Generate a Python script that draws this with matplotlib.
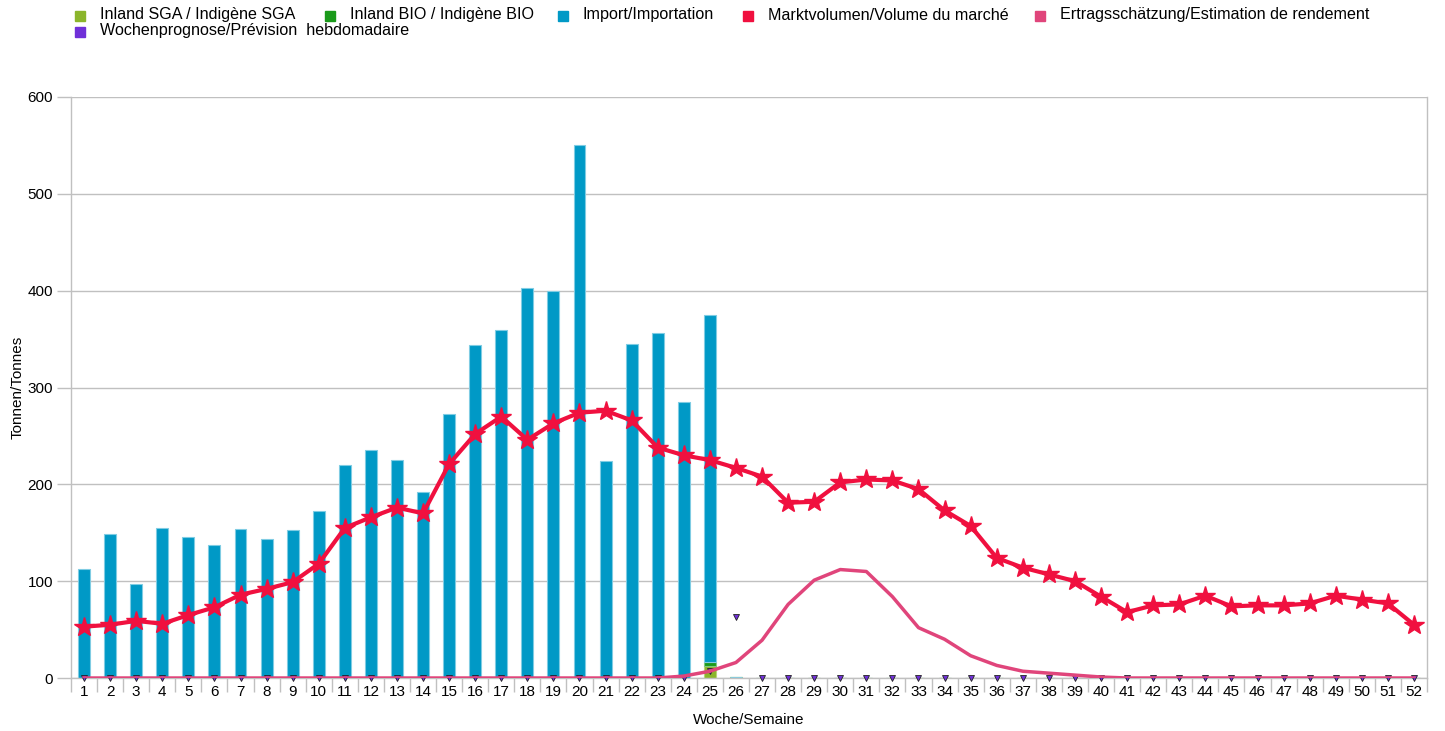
import numpy as np
import matplotlib
matplotlib.use("Agg")
import matplotlib.pyplot as plt
from matplotlib.lines import Line2D

plt.rcParams['font.family'] = ['Liberation Sans', 'DejaVu Sans']

# Data
weeks = np.arange(1, 53)

inland_sga = [0]*24 + [12, 1] + [0]*26
inland_bio = [0]*24 + [5] + [0]*27
import_vals = [113, 149, 97, 155, 146, 137, 154, 144, 153, 172,
               220, 235, 225, 192, 273, 344, 359, 403, 400, 550,
               224, 345, 356, 285, 358] + [0]*27
market = [53, 55, 59, 56, 65, 73, 86, 92, 99, 118,
          155, 166, 176, 170, 221, 252, 270, 246, 263, 274,
          276, 266, 238, 230, 225, 217, 208, 181, 182, 202,
          205, 204, 195, 173, 157, 124, 114, 107, 100, 84,
          68, 75, 76, 85, 74, 75, 75, 77, 85, 81,
          77, 55]
yield_est = [0]*23 + [2, 7, 16, 39, 76, 101, 112, 110, 84, 52, 40,
                      23, 13, 7, 5, 3, 1] + [0]*12
forecast = [0]*24 + [7, 63] + [0]*26

c_sga = '#8bb52b'
c_bio = '#1a9a1a'
c_imp = '#0099c6'
c_mkt = '#f0103f'
c_yld = '#e0457b'
c_fc = '#7030d8'
grey = '#c0c0c0'

W, H = 1445, 731
fig = plt.figure(figsize=(W/100, H/100), dpi=100)
ax = fig.add_axes([71/W, 53/H, 1356/W, 581/H])

bw = 0.46
sga = np.array(inland_sga)
bio = np.array(inland_bio)
imp = np.array(import_vals)
ax.bar(weeks, sga, bw, color=c_sga, edgecolor='#b8d27a', linewidth=0.8, zorder=2)
ax.bar(weeks, bio, bw, bottom=sga, color=c_bio, edgecolor='#80c880', linewidth=0.8, zorder=2)
ax.bar(weeks, imp, bw, bottom=sga+bio, color=c_imp, edgecolor='#7fcce3', linewidth=0.8, zorder=2)

ax.plot(weeks, forecast, linestyle='none', marker='v', markersize=5,
        markerfacecolor=c_fc, markeredgecolor='#222222', markeredgewidth=0.6,
        zorder=3, clip_on=False)
ax.plot(weeks, yield_est, color=c_yld, linewidth=2.5, zorder=4)
ax.plot(weeks, market, color=c_mkt, linewidth=3, marker='*', markersize=15,
        markerfacecolor=c_mkt, markeredgecolor=c_mkt, zorder=5)

ax.set_xlim(0.5, 52.5)
ax.set_ylim(0, 600)
ax.set_yticks(np.arange(0, 601, 100))
ax.set_xticks(weeks)
ax.set_xticks(np.arange(0.5, 53, 1), minor=True)
ax.tick_params(axis='x', which='major', length=0, labelsize=11, pad=5)
ax.tick_params(axis='x', which='minor', length=10, color=grey, width=1)
ax.tick_params(axis='y', length=10, color=grey, width=1, labelsize=11, pad=3)
ax.grid(axis='y', color=grey, linewidth=1, zorder=0)
ax.set_axisbelow(True)
for s in ['left', 'bottom', 'right']:
    ax.spines[s].set_color(grey)
    ax.spines[s].set_linewidth(1)
ax.spines['top'].set_visible(False)

ax.set_xlabel('Woche/Semaine', fontsize=11, labelpad=10)
ax.set_ylabel('Tonnen/Tonnes', fontsize=11, labelpad=2)

# Legend, placed item by item like the original
labels = ['Inland SGA / Indigène SGA', 'Inland BIO / Indigène BIO', 'Import/Importation',
          'Marktvolumen/Volume du marché', 'Ertragsschätzung/Estimation de rendement',
          'Wochenprognose/Prévision  hebdomadaire']
cols = [c_sga, c_bio, c_imp, c_mkt, c_yld, c_fc]
leg_x = [80, 330, 563, 748, 1040, 80]   # marker centre, px
leg_y = [15, 15, 15, 15, 15, 31]
for lab, c, x, y in zip(labels, cols, leg_x, leg_y):
    fig.add_artist(Line2D([x/W], [1 - (y+1)/H], transform=fig.transFigure,
                          linestyle='none', marker='s', markersize=7,
                          markerfacecolor=c, markeredgecolor=c))
    fig.text((x + 20)/W, 1 - y/H, lab, fontsize=11.6, va='center', ha='left')

fig.savefig('out.png', dpi=100)
